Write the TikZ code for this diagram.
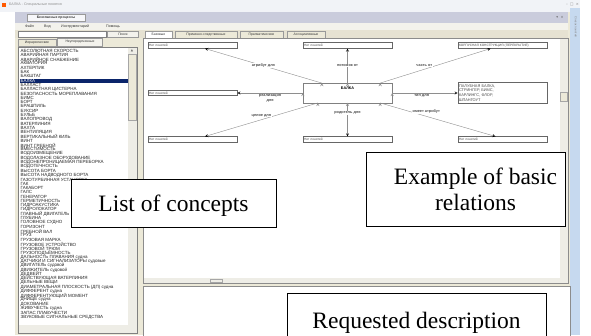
\documentclass[tikz,border=0pt]{standalone}
\usepackage{fontspec}
\setmainfont{Liberation Serif}
\newfontfamily\uifont{Liberation Sans}
\newfontfamily\symfont{DejaVu Sans}
\usetikzlibrary{positioning}

\definecolor{xpface}{HTML}{ECE9D8}
\definecolor{titlebar}{HTML}{F1F3F7}
\definecolor{mdibar}{HTML}{CACCDC}
\definecolor{menubar}{HTML}{F3F2EC}
\definecolor{toolbar}{HTML}{E6E2D2}
\definecolor{selnavy}{HTML}{0A246A}
\definecolor{sidestrip}{HTML}{C6D9EF}
\definecolor{scrollface}{HTML}{EEEDE6}
\definecolor{linkgray}{HTML}{8E8E8E}

\begin{document}
\begin{tikzpicture}[x = 1pt, y = -1pt, % one unit = one screen pixel, y down
                > = stealth, % arrow head style
                node distance = 7mm,
                thin % line style
            ]

            \tikzstyle{conceptbox}=[draw = black!60, fill = white, line width = 0.6pt,
            minimum width = 89pt, minimum height = 5.5pt, text width = 87pt,
            inner xsep = 1pt, inner ysep = 0.6pt, align = left,
            font = \uifont\fontsize{3.2}{3.8}\selectfont, text = black!70]
            \tikzstyle{relation}=[draw = linkgray, ->]
            \tikzstyle{rellabel}=[fill = white, inner sep = 0.6pt, align = center,
            font = \uifont\bfseries\fontsize{3.8}{4.4}\selectfont, text = black!70]
            \tikzstyle{callout}=[draw = black, line width = 0.9pt, fill = white,
            font = \fontsize{23.5}{26}\selectfont]
            \tikzstyle{listitem}=[anchor = west, inner sep = 0pt,
            font = \uifont\fontsize{4.5}{4.5}\selectfont]
            \tikzstyle{uitext}=[inner sep = 0pt, text = black!80,
            font = \uifont\fontsize{3.6}{4}\selectfont]
            \tikzstyle{tabbox}=[draw = black!40, fill = xpface, inner sep = 0pt,
            minimum height = 7pt, font = \uifont\fontsize{3.4}{4}\selectfont,
            text = black!80]

            \useasboundingbox (0,0) rectangle (591,335);
            \fill[white] (0,0) rectangle (591,335);

            % window frame
            \fill[titlebar] (0,0) rectangle (580,12);
            \fill[orange!70!red] (2,3) rectangle (6,7);
            \node[uitext, anchor = west, text = black!45] (title) at (9,5)
            {БАЛКА - Специальные понятия};
            \node[uitext, anchor = east, text = black!50,
            font = \symfont\fontsize{3.6}{4}\selectfont] (winbtn) at (579,5)
            {– \ □ \ ×};
            \fill[xpface] (15,12) rectangle (570,335);
            \fill[mdibar] (15,12) rectangle (568,23);
            \node[tabbox, fill = white!85!mdibar, minimum width = 58pt,
            font = \uifont\bfseries\fontsize{3.4}{4}\selectfont] (doctab)
            at (56,17.5) {Безопасные процессы};
            \node[uitext, text = black!60,
            font = \symfont\fontsize{3.6}{4}\selectfont] (docbtn) at (560,17.5) {▾ \ ×};
            \fill[menubar] (15,23) rectangle (568,30);
            \fill[toolbar] (15,30) rectangle (568,38);
            \node[uitext, anchor = west] (mfile) at (25,26.5) {Файл};
            \node[uitext, anchor = west] (mview) at (44,26.5) {Вид};
            \node[uitext, anchor = west] (mtools) at (61,26.5) {Инструментарий};
            \node[uitext, anchor = west] (mhelp) at (106,26.5) {Помощь};
            \fill[sidestrip] (570,8) rectangle (580,335);
            \node[uitext, rotate = -90, text = black!50,
            font = \uifont\fontsize{2.8}{3}\selectfont] (sidetext) at (576,27)
            {Список понятий};

            % left panel: search and list of concepts
            \node[draw = black!50, fill = white, minimum width = 88pt,
            minimum height = 6pt, inner sep = 0pt] (search) at (62,34) {};
            \node[tabbox, fill = menubar, minimum width = 31pt,
            minimum height = 6pt] (find) at (123,34) {Поиск};
            \node[tabbox, minimum width = 38pt] (tabtree) at (37,42.5)
            {Иерархические};
            \node[tabbox, fill = menubar, minimum width = 45pt,
            minimum height = 8pt] (tabplain) at (80,42) {Неупорядоченные};
            \draw[black!50, fill = white] (18,47) rectangle (137,333);
            \fill[selnavy] (19.5,78.5) rectangle (127.5,82.7);
            \foreach \term [count = \i from 0] in {АБСОЛЮТНАЯ СКОРОСТЬ,
                АВАРИЙНАЯ ПАРТИЯ, АВАРИЙНОЕ СНАБЖЕНИЕ, АКВАТОРИЯ, АХТЕРПИК,
                БАК, БАКШТАГ, БАЛКА, БАЛЛАСТ, БАЛЛАСТНАЯ ЦИСТЕРНА,
                БЕЗОПАСНОСТЬ МОРЕПЛАВАНИЯ, БИМС, БОРТ, БРАШПИЛЬ, БУКСИР,
                БУЛЬБ, ВАЛОПРОВОД, ВАТЕРЛИНИЯ, ВАХТА, ВЕНТИЛЯЦИЯ,
                ВЕРТИКАЛЬНЫЙ КИЛЬ, ВИНТ, ВИНТ ГРЕБНОЙ, ВМЕСТИМОСТЬ,
                ВОДОИЗМЕЩЕНИЕ, ВОДОЛАЗНОЕ ОБОРУДОВАНИЕ,
                ВОДОНЕПРОНИЦАЕМАЯ ПЕРЕБОРКА, ВОДОТЕЧНОСТЬ, ВЫСОТА БОРТА,
                ВЫСОТА НАДВОДНОГО БОРТА, ГАЗОТУРБИННАЯ УСТАНОВКА, ГАК,
                ГАКАБОРТ, ГАЛС, ГЕНЕРАТОР, ГЕРМЕТИЧНОСТЬ, ГИДРОАКУСТИКА,
                ГИДРОЛОКАТОР, ГЛАВНЫЙ ДВИГАТЕЛЬ, ГЛУБИНА, ГОЛОВНОЕ СУДНО,
                ГОРИЗОНТ, ГРЕБНОЙ ВАЛ, ГРУЗ, ГРУЗОВАЯ МАРКА,
                ГРУЗОВОЕ УСТРОЙСТВО, ГРУЗОВОЙ ТРЮМ,
                ГРУЗОПОДЪЁМНОСТЬ, ДАЛЬНОСТЬ ПЛАВАНИЯ судна,
                ДАТЧИКИ И СИГНАЛИЗАТОРЫ судовые, ДВИГАТЕЛЬ судовой,
                ДВИЖИТЕЛЬ судовой, ДЕДВЕЙТ,
                ДЕЙСТВУЮЩАЯ ВАТЕРЛИНИЯ, ДЕЛЬНЫЕ ВЕЩИ,
                ДИАМЕТРАЛЬНАЯ ПЛОСКОСТЬ (ДП) судна, ДИФФЕРЕНТ судна,
                ДИФФЕРЕНТУЮЩИЙ МОМЕНТ, ДНИЩЕ судна, ДОКОВАНИЕ,
                ЖИВУЧЕСТЬ судна, ЗАПАС ПЛАВУЧЕСТИ,
                ЗВУКОВЫЕ СИГНАЛЬНЫЕ СРЕДСТВА}
            {
                \ifnum\i=7 \def\termcol{white}\else\def\termcol{black!85}\fi
                \node[listitem, text = \termcol] (term\i) at (20.5, 50.5+4.3*\i)
                {\term};
            }
            \fill[scrollface] (128,47.5) rectangle (136.5,325);
            \fill[xpface] (128.5,54) rectangle (136,120);
            \draw[black!35] (128.5,54) rectangle (136,120);
            \fill[scrollface] (18.5,325) rectangle (136.5,332.5);
            \node[uitext, text = black!60,
            font = \symfont\fontsize{3}{3}\selectfont] (lup) at (132,50.5) {▲};

            % right panel: diagram of basic relations
            \node[tabbox, fill = white, minimum width = 27pt] (tbasic)
            at (158.5,34.5) {Базовые};
            \node[tabbox, minimum width = 62pt] (tcause) at (206,34.5)
            {Причинно-следственные};
            \node[tabbox, minimum width = 43pt] (tprag) at (261.5,34.5)
            {Прагматические};
            \node[tabbox, minimum width = 38pt] (tassoc) at (306,34.5)
            {Ассоциативные};
            \draw[black!45, fill = white] (143,38) rectangle (568,283);
            \fill[scrollface] (560,39) rectangle (567.5,278);
            \fill[xpface] (560.5,92) rectangle (567,101);
            \draw[black!35] (560.5,92) rectangle (567,101);
            \fill[scrollface] (144,278) rectangle (567.5,282.5);
            \draw[black!35] (210,279) rectangle (222,282);
            \draw[black!45, fill = white] (143,286) rectangle (570,336);

            \node[draw = black!50, fill = white, minimum width = 89pt,
            minimum height = 18pt, text height = 2.8pt, text depth = 10pt,
            font = \uifont\bfseries\fontsize{3.8}{4}\selectfont] (balka)
            at (347.5,93) {БАЛКА};

            \node[conceptbox, on grid, above = 47.5pt of balka] (descend) {Нет понятий};
            \node[conceptbox, on grid, below = 46.5pt of balka] (parent) {Нет понятий};
            \node[conceptbox, on grid, left = 155pt of balka] (impl) {Нет понятий};
            \node[conceptbox, on grid, left = 155pt of descend] (attr) {Нет понятий};
            \node[conceptbox, on grid, left = 155pt of parent] (whole) {Нет понятий};
            \node[conceptbox, on grid, right = 155pt of descend] (partof)
            {КОРПУСНАЯ КОНСТРУКЦИЯ (ПЕРЕКРЫТИЕ)};
            \node[conceptbox, on grid, right = 155pt of parent] (hasattr) {Нет понятий};
            \node[conceptbox, on grid, right = 155pt of balka, minimum height = 21pt,
            font = \uifont\fontsize{3.9}{4.7}\selectfont]
            (types) {ПАЛУБНАЯ БАЛКА,\\ СТРИНГЕР, БИМС,\\ КАРЛИНГС, ФЛОР,\\ ШПАНГОУТ};

            \path[relation] ([xshift = 19pt]balka.north west) edge
            node[rellabel, pos = 0.5] {атрибут для} ([xshift = 12.5pt]attr.south);
            \path[relation] (balka.west) edge
            node[rellabel, below = 1pt, pos = 0.5] {реализация\\ для} (impl.east);
            \path[relation] ([xshift = 15pt]balka.south west) edge
            node[rellabel, above = 2pt, pos = 0.5] {целое для} ([xshift = 12.5pt]whole.north);
            \path[relation] (balka.north) edge
            node[rellabel, pos = 0.5] {потомок от} (descend.south);
            \path[relation] (balka.south) edge
            node[rellabel, pos = 0.3] {родитель для} (parent.north);
            \path[relation] ([xshift = -12pt]balka.north east) edge
            node[rellabel, above = 2pt, pos = 0.4] {часть от} ([xshift = -12pt]partof.south);
            \path[relation] (balka.east) edge
            node[rellabel, below = 1pt, pos = 0.45] {тип для} (types.west);
            \path[relation] ([xshift = -12pt]balka.south east) edge
            node[rellabel, above = 2pt, pos = 0.4] {имеет атрибут} ([xshift = -7pt]hasattr.north);

            % callouts
            \node[callout, minimum width = 205pt, minimum height = 48pt,
            text height = 18pt, text depth = 2pt] (listnote) at (173.5,203)
            {List of concepts};
            \node[callout, minimum width = 199pt, minimum height = 74pt,
            align = center] (relnote) at (465.5,189)
            {\hspace*{20pt}Example of basic\\ \hspace*{20pt}relations};
            \node[callout, anchor = north, minimum width = 259pt,
            text height = 17pt, text depth = 5pt, inner ysep = 18pt] (descnote)
            at (416.5,293) {Requested description};

        \end{tikzpicture}
\end{document}
